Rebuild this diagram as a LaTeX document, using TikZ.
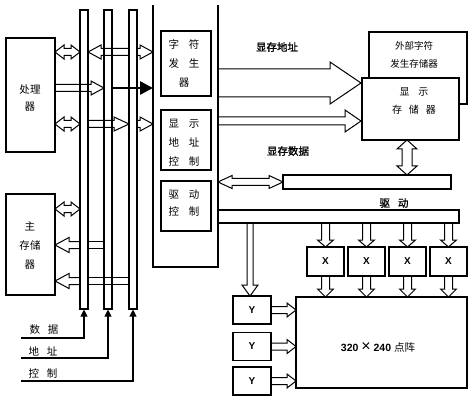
\documentclass[tikz,border=0pt]{standalone}
\usepackage{fontspec}
\setmainfont{Liberation Sans}
\newfontfamily\cjk{Noto Sans CJK SC}
\newfontfamily\cjkb[FakeBold=1.2]{Noto Sans CJK SC}
\usetikzlibrary{arrows.meta}
\tikzset{
  ln/.style={line width=1.1pt},
  box/.style={draw, line width=1.1pt, fill=white, inner sep=0pt},
  bar/.style={draw, line width=1.1pt, fill=white, inner sep=0pt, minimum width=8pt, minimum height=299pt},
  arr/.style={draw, line width=1pt, line join=miter},
  lbl/.style={font=\cjk\fontsize{10.5}{19}\selectfont, inner sep=0pt, align=center},
  lbs/.style={font=\cjk\fontsize{9.5}{18}\selectfont, inner sep=0pt, align=center},
  hdl/.style={font=\cjkb\fontsize{10.5}{12}\selectfont, inner sep=0pt},
  xy/.style={font=\bfseries\fontsize{10}{12}\selectfont, inner sep=0pt},
  tip/.style={-{Triangle[length=7pt,width=7pt]}},
}
% right-pointing hollow arrow: x1 x2 y halfshaft halfhead headlength
\newcommand{\harR}[6]{\draw[arr] (#1,#3-#4) -- (#2-#6,#3-#4) -- (#2-#6,#3-#5) -- (#2,#3) -- (#2-#6,#3+#5) -- (#2-#6,#3+#4) -- (#1,#3+#4);}
% left-pointing: head at x1
\newcommand{\harL}[6]{\draw[arr] (#2,#3-#4) -- (#1+#6,#3-#4) -- (#1+#6,#3-#5) -- (#1,#3) -- (#1+#6,#3+#5) -- (#1+#6,#3+#4) -- (#2,#3+#4);}
% double-headed horizontal
\newcommand{\harD}[6]{\draw[arr] (#1+#6,#3-#4) -- (#2-#6,#3-#4) -- (#2-#6,#3-#5) -- (#2,#3) -- (#2-#6,#3+#5) -- (#2-#6,#3+#4) -- (#1+#6,#3+#4) -- (#1+#6,#3+#5) -- (#1,#3) -- (#1+#6,#3-#5) -- cycle;}
% downward: x y1 y2 halfshaft halfhead headlength
\newcommand{\varD}[6]{\draw[arr] (#1-#4,#2) -- (#1-#4,#3-#6) -- (#1-#5,#3-#6) -- (#1,#3) -- (#1+#5,#3-#6) -- (#1+#4,#3-#6) -- (#1+#4,#2);}
% double-headed vertical
\newcommand{\varDD}[6]{\draw[arr] (#1-#4,#2+#6) -- (#1-#5,#2+#6) -- (#1,#2) -- (#1+#5,#2+#6) -- (#1+#4,#2+#6) -- (#1+#4,#3-#6) -- (#1+#5,#3-#6) -- (#1,#3) -- (#1-#5,#3-#6) -- (#1-#4,#3-#6) -- cycle;}
\begin{document}
\begin{tikzpicture}[x=1pt,y=-1pt]
\useasboundingbox (0,0) rectangle (473,403);
\fill[white] (0,0) rectangle (473,403);

% processor and main memory
\node[box, minimum width=49pt, minimum height=114pt] (proc) at (30.5,95) {};
\node[lbl] (tproc) at (30,98.5) {处理\\[-2pt]器};
\node[box, minimum width=49pt, minimum height=101pt] (mem) at (30.5,244.5) {};
\node[lbl] (tmem) at (30,246) {主\\存储\\器};

% bus bars
\node[bar] (b1) at (84,159.5) {};
\node[bar] (b2) at (108,159.5) {};
\node[bar] (b3) at (133,159.5) {};

% controller outline
\draw[ln] (153,5) -- (153,267) -- (218,267) -- (218,5);
\node[box, minimum width=50pt, minimum height=65pt] (cg) at (186,63.5) {};
\node[lbl] (tcg) at (184,63) {字\hspace{10pt}符\\发\hspace{10pt}生\\器};
\node[box, minimum width=50pt, minimum height=60pt] (dac) at (186,140) {};
\node[lbl] (tdac) at (184,143) {显\hspace{10pt}示\\地\hspace{10pt}址\\控\hspace{10pt}制};
\node[box, minimum width=50pt, minimum height=50pt] (drv) at (186,206) {};
\node[lbl, font=\cjk\fontsize{10.5}{17}\selectfont] (tdrv) at (184,203.5) {驱\hspace{10pt}动\\控\hspace{10pt}制};

% processor-side arrows
\harD{55}{80}{52}{3.5}{7}{9}
\harL{88}{129}{52}{3.5}{7}{13}
\harR{137}{153}{52}{3.5}{7}{13}
\harR{55}{104}{88}{3.5}{7}{13}
\draw[line width=2.6pt, -{Triangle[length=13pt,width=13pt]}] (b2.east |- cg.center) ++(0,24.5) coordinate (bs) -- (bs -| 153,0);
\harD{55}{80}{124}{3.5}{7}{9}
\harR{88}{129}{124}{3.5}{7}{15}
\harR{137}{153}{124}{3.5}{7}{13}

% memory-side arrows
\harD{55}{80}{209}{3.5}{7}{9}
\harL{55}{80}{245}{3.5}{7.5}{14}
\draw[arr] (88,241.5) -- (104,241.5) (88,248.5) -- (104,248.5);
\harL{55}{80}{281}{3.5}{7.5}{14}
\draw[arr] (88,277.5) -- (129,277.5) (88,284.5) -- (129,284.5);

% bus inputs
\coordinate (sd) at (21,338);
\coordinate (sa) at (21,358);
\coordinate (sc) at (21,381);
\draw[ln, tip] (sd) -| (b1.south);
\draw[ln, tip] (sa) -| (b2.south);
\draw[ln, tip] (sc) -| (b3.south);
\node[lbl] (ld) at (44,330) {数\hspace{8pt}据};
\node[lbl] (la) at (43,351) {地\hspace{8pt}址};
\node[lbl] (lc) at (43,373) {控\hspace{8pt}制};

% external char memory and display memory
\node[box, minimum width=98pt, minimum height=72pt] (ext) at (418,68) {};
\node[lbs] (text) at (414,55) {外部字符\\发生存储器};
\node[box, minimum width=97pt, minimum height=62pt] (vram) at (410.5,109) {};
\node[lbl, font=\cjk\fontsize{10}{18}\selectfont] (tvram) at (414,101) {显\hspace{9pt}示\\存\hspace{7pt}储\hspace{7pt}器};

% address arrows to display memory
\harR{218}{361}{83}{14}{21}{31}
\harR{218}{361}{121}{4}{11}{16}
\node[hdl] (laddr) at (277,47) {显存地址};

% data bar
\node[box, minimum width=168pt, minimum height=14pt] (dbar) at (367,182) {};
\varDD{407}{140}{175}{5}{10}{9}
\harD{218}{283}{182}{3.5}{6.5}{14}
\node[hdl] (ldata) at (288,151) {显存数据};

% drive band
\draw[ln] (218,210) -- (459,210) -- (459,223) -- (218,223);
\node[hdl] (ldrv) at (394,203) {驱\hspace{8pt}动};

% X drivers
\foreach \i/\xx in {1/325.5,2/366.5,3/407.5,4/448.5}{
  \node[box, minimum width=37pt, minimum height=29pt, xy] (X\i) at (\xx,261.5) {X};
  \varD{\xx}{223}{247}{4}{8}{7}
  \varD{\xx}{276}{297}{4}{8}{8}
}

% matrix
\node[box, minimum width=171pt, minimum height=91pt] (mat) at (381.5,342.5) {};
\node[inner sep=0pt] (tmat) at (378,347) {\bfseries\fontsize{10.5}{12}\selectfont 320 {\mdseries\fontsize{16}{16}\selectfont ×} 240 {\cjk\mdseries\fontsize{10.5}{12}\selectfont 点阵}};

% Y drivers
\varD{250}{223}{296}{3}{8}{11}
\foreach \i/\yy in {1/310,2/346.5,3/381}{
  \node[box, minimum width=38pt, minimum height=28pt, xy] (Y\i) at (252,\yy) {Y};
  \harR{271}{296}{\yy}{3.5}{7}{9}
}
\end{tikzpicture}
\end{document}
